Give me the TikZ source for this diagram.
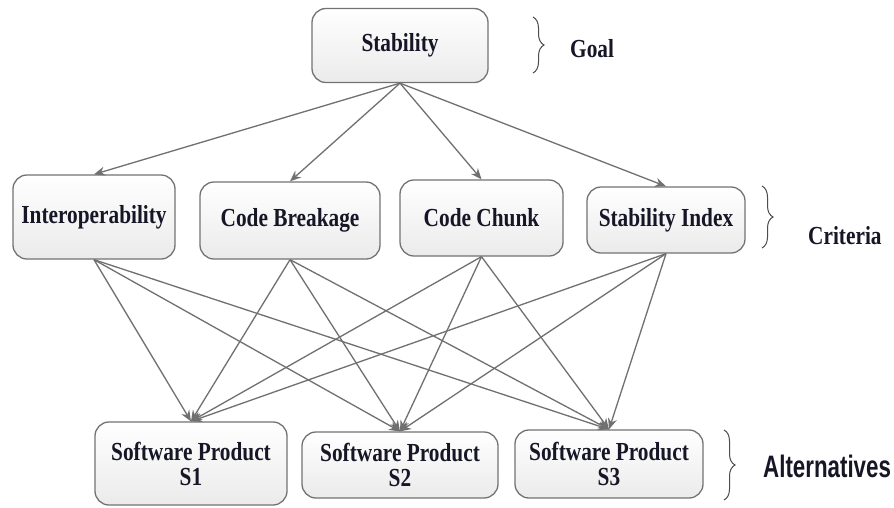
\documentclass[tikz,border=0pt]{standalone}
\usepackage{fontspec}
\setmainfont{Liberation Serif}[FakeStretch=0.82]
\newfontfamily\altfont{Liberation Sans}[FakeStretch=0.72]
\usetikzlibrary{arrows.meta,decorations.pathreplacing}
\definecolor{boxline}{RGB}{115,115,115}
\definecolor{arrowc}{RGB}{112,112,112}
\definecolor{txt}{RGB}{22,22,38}
\begin{document}
\begin{tikzpicture}[x=1pt,y=-1pt,
  hbox/.style={draw=boxline, line width=1.3pt, rounded corners=14pt,
    top color=white, bottom color=black!8, text=txt,
    font=\bfseries\fontsize{26}{25}\selectfont, align=center, inner sep=0pt},
  conn/.style={draw=arrowc, line width=1.3pt, -{Stealth[length=11pt,width=9pt]}},
  lbl/.style={text=txt, font=\bfseries\fontsize{26}{26}\selectfont, inner sep=0pt},
  brc/.style={draw=black!70, line width=1pt, decorate, decoration={brace, amplitude=11pt}}
]
\useasboundingbox (0,0) rectangle (894,507);
\fill[white] (0,0) rectangle (894,507);

\node[hbox, minimum width=176pt, minimum height=74pt] (stab) at (400,45.5) {Stability};

\node[hbox, minimum width=162pt, minimum height=84pt] (inter) at (94,217) {Interoperability};
\node[hbox, minimum width=180pt, minimum height=77pt] (cb) at (290,220.5) {Code Breakage};
\node[hbox, minimum width=163pt, minimum height=76pt] (cc) at (481.5,218) {Code Chunk};
\node[hbox, minimum width=158pt, minimum height=66pt] (si) at (666,220) {Stability Index};

\node[hbox, minimum width=192pt, minimum height=83pt] (s1) at (191,463.5) {Software Product\\S1};
\node[hbox, minimum width=196pt, minimum height=66pt] (s2) at (400,465) {Software Product\\S2};
\node[hbox, minimum width=188pt, minimum height=68pt] (s3) at (609,464) {Software Product\\S3};

% goal level
\foreach \t in {inter,cb,cc,si} \draw[conn] (stab.south) -- (\t.north);
% criteria to alternatives
\foreach \c in {inter,cb,cc,si}
  \foreach \a in {s1,s2,s3}
    \draw[conn] (\c.south) -- (\a.north);

% braces and labels
\coordinate (g1) at (533,17); \coordinate (g2) at (533,73);
\draw[brc] (g1) -- (g2);
\node[lbl, anchor=west] (goal) at (570,49) {Goal};

\coordinate (c1) at (762,186); \coordinate (c2) at (762,248);
\draw[brc] (c1) -- (c2);
\node[lbl, anchor=west] (crit) at (808,236) {Criteria};

\coordinate (a1) at (724,430); \coordinate (a2) at (724,500);
\draw[brc] (a1) -- (a2);
\node[text=txt, font=\altfont\bfseries\fontsize{31}{32}\selectfont, inner sep=0pt, anchor=west] (alt) at (763,466) {Alternatives};
\end{tikzpicture}
\end{document}
